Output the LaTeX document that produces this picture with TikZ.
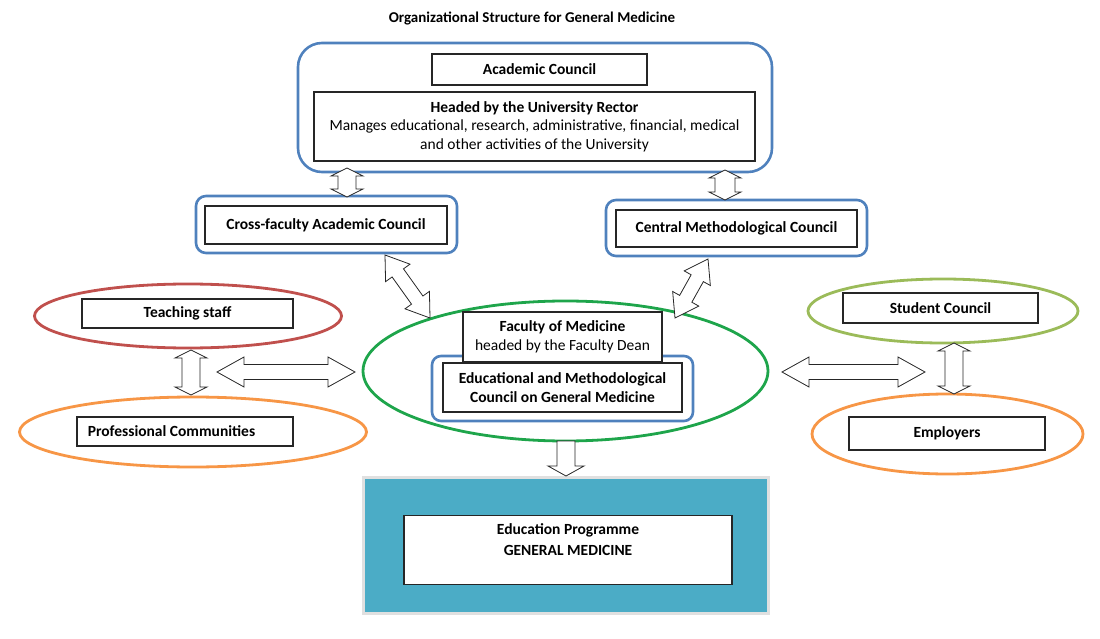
\documentclass[tikz,border=0pt]{standalone}
\usepackage{fontspec}
\setmainfont{Carlito}
\usetikzlibrary{calc,shapes.geometric}
\definecolor{ofblue}{RGB}{79,129,189}
\definecolor{ofred}{RGB}{192,80,77}
\definecolor{oforange}{RGB}{247,150,70}
\definecolor{ofgreen}{RGB}{30,165,75}
\definecolor{oflime}{RGB}{155,187,89}
\definecolor{ofteal}{RGB}{75,172,198}
\newcommand\blockarrow[5]{%
\draw[barrow] (#1) -- ($(#1)!#3!(#2)!#5!90:(#2)$) -- ($(#1)!#3!(#2)!#4!90:(#2)$)
  -- ($(#2)!#3!(#1)!#4!-90:(#1)$) -- ($(#2)!#3!(#1)!#5!-90:(#1)$) -- (#2)
  -- ($(#2)!#3!(#1)!#5!90:(#1)$) -- ($(#2)!#3!(#1)!#4!90:(#1)$)
  -- ($(#1)!#3!(#2)!#4!-90:(#2)$) -- ($(#1)!#3!(#2)!#5!-90:(#2)$) -- cycle;}
\begin{document}
\begin{tikzpicture}[x=1pt,y=-1pt,
  txt/.style={font=\fontsize{15.5}{18.5}\selectfont, align=center, inner sep=0pt},
  btxt/.style={font=\fontsize{15.5}{18.5}\selectfont\bfseries},
  box/.style={txt, draw=black!85, line width=1.1pt, fill=white},
  frame/.style={draw=ofblue, line width=2.6pt, rounded corners=#1},
  oval/.style={ellipse, draw=#1, line width=2.8pt, inner sep=0pt},
  barrow/.style={draw=black!85, line width=0.8pt, fill=white, line join=miter}]
\useasboundingbox (0,0) rectangle (1100,639);
\node[txt, font=\fontsize{15}{18}\selectfont\bfseries] (title) at (532,18) {Organizational Structure for General Medicine};
% top council
\node[frame=24pt, minimum width=474, minimum height=129] (council) at (535,107.5) {};
\node[box, btxt, minimum width=215, minimum height=31] (acad) at (539.5,69.5) {Academic Council};
\node[box, minimum width=441, minimum height=69] (rector) at (534.5,126.5) {\textbf{Headed by the University Rector}\\Manages educational, research, administrative, financial, medical\\and other activities of the University};
% councils
\node[frame=10pt, minimum width=261, minimum height=57] (xfac) at (326.5,224.5) {};
\node[box, btxt, minimum width=242, minimum height=38] (xfacbox) at (326,225) {Cross-faculty Academic Council};
\node[frame=10pt, minimum width=261, minimum height=56] (cmc) at (736.5,228) {};
\node[box, btxt, minimum width=241, minimum height=37] (cmcbox) at (736.5,228.5) {Central Methodological Council};
% left side
\node[oval=ofred, minimum width=307, minimum height=64] (teach) at (188,316) {};
\node[box, btxt, minimum width=211, minimum height=29] (teachbox) at (187.5,313.5) {Teaching staff};
\node[oval=oforange, minimum width=347, minimum height=70] (prof) at (193,432) {};
\node[box, btxt, minimum width=216, minimum height=29] (profbox) at (185,431.5) {Professional Communities\kern27pt};
% faculty
\node[oval=ofgreen, minimum width=405, minimum height=140] (fac) at (565.5,371) {};
\node[frame=9pt, minimum width=261, minimum height=65] (emc) at (562.5,388.5) {};
\node[box, btxt, minimum width=239, minimum height=49] (emcbox) at (562.5,387.5) {Educational and Methodological\\Council on General Medicine};
\node[box, minimum width=199, minimum height=50] (facbox) at (562.5,337) {\textbf{Faculty of Medicine}\\headed by the Faculty Dean};
% right side
\node[oval=oflime, minimum width=270, minimum height=64] (student) at (943,311) {};
\node[box, btxt, minimum width=195, minimum height=30] (studentbox) at (940.5,308) {Student Council};
\node[oval=oforange, minimum width=271, minimum height=80] (employ) at (947.5,434) {};
\node[box, btxt, minimum width=196, minimum height=33] (employbox) at (947,433.5) {Employers};
% programme
\node[draw=black!12, line width=3pt, fill=ofteal, minimum width=405, minimum height=136] (prog) at (565.5,545) {};
\node[box, minimum width=328, minimum height=69, font=\fontsize{15.5}{21}\selectfont\bfseries] (progbox) at (568,550) {Education Programme\\GENERAL MEDICINE\\\mbox{}};
% arrows
\coordinate (a1) at (347,168);
\coordinate (a2) at (347,197);
\coordinate (b1) at (725,170);
\coordinate (b2) at (725,200);
\coordinate (c1) at (385,255);
\coordinate (c2) at (430,318);
\coordinate (d1) at (708,259);
\coordinate (d2) at (675,318);
\coordinate (e1) at (191,350);
\coordinate (e2) at (191,395);
\coordinate (f1) at (217,372);
\coordinate (f2) at (355,372);
\coordinate (g1) at (782,372);
\coordinate (g2) at (925,372);
\coordinate (h1) at (954,343);
\coordinate (h2) at (954,394);
\blockarrow{a1}{a2}{8pt}{9pt}{16pt}
\blockarrow{b1}{b2}{8pt}{10pt}{16pt}
\blockarrow{c1}{c2}{22pt}{7pt}{15pt}
\blockarrow{d1}{d2}{22pt}{7pt}{15pt}
\blockarrow{e1}{e2}{8pt}{9pt}{16pt}
\blockarrow{f1}{f2}{27pt}{7.5pt}{15pt}
\blockarrow{g1}{g2}{27pt}{7.5pt}{15pt}
\blockarrow{h1}{h2}{8pt}{9pt}{16pt}
\coordinate (k1) at (566,441);
\coordinate (k2) at (566,476);
\draw[barrow] (k1 -| 557,0) -- ($(k2)+(-9,-10)$) -- ($(k2)+(-18,-10)$) -- (k2) -- ($(k2)+(18,-10)$) -- ($(k2)+(9,-10)$) -- (k1 -| 575,0) -- cycle;
\end{tikzpicture}
\end{document}
